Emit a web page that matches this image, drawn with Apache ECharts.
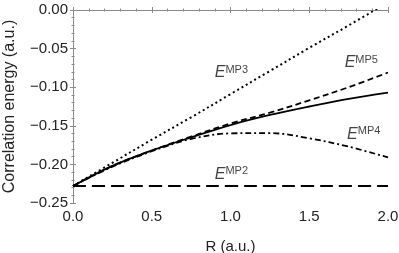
<!DOCTYPE html>
<html><head><meta charset="utf-8">
<script src="https://cdn.jsdelivr.net/npm/echarts@6/dist/echarts.min.js"></script>
<style>html,body{margin:0;padding:0;background:#fff}#c{width:399px;height:253px}</style>
</head><body><div id="c"></div>
<script>
const R = [0, 0.25, 0.5, 0.75, 1.0, 1.25, 1.5, 1.75, 2.0];
const mp2 = [-0.228, -0.228, -0.228, -0.228, -0.228, -0.228, -0.228, -0.228, -0.228];
const mp3 = [-0.228, -0.198, -0.168, -0.139, -0.109, -0.079, -0.049, -0.020, 0.010];
const mp4 = [-0.228, -0.203, -0.183, -0.167, -0.1598, -0.1594, -0.1662, -0.177, -0.191];
const mp5 = [-0.228, -0.202, -0.182, -0.164, -0.147, -0.133, -0.117, -0.100, -0.081];
const exact = [-0.228, -0.202, -0.182, -0.165, -0.149, -0.136, -0.125, -0.115, -0.107];
const labelNames = ['MP3', 'MP5', 'MP4', 'MP2'];
const labelX = [0.90, 1.725, 1.74, 0.90];
const labelY = [-0.081, -0.068, -0.161, -0.213];
const xTickLabels = ['0.0', '0.5', '1.0', '1.5', '2.0'];
const yTickLabels = ['−0.25', '−0.20', '−0.15', '−0.10', '−0.05', '0.00'];

const pair = a => R.map((r, i) => [r, a[i]]);
const font = 'Liberation Sans, Arial, sans-serif';
const frame = '#8a8a8a';
const txt = '#222';
const axisCommon = {
  axisLine: { show: true, lineStyle: { color: frame, width: 1 } },
  axisTick: { show: true, inside: true, length: 3, lineStyle: { color: frame } },
  minorTick: { show: true, splitNumber: 5, length: 1.5, lineStyle: { color: frame } },
  splitLine: { show: false }
};
const chart = echarts.init(document.getElementById('c'));
const lineS = (name, data, type, w) => ({
  name, type: 'line', data: pair(data), smooth: 0.35, showSymbol: false, symbol: 'none',
  lineStyle: { color: '#000', width: w, type: type }, clip: true, z: 3
});
chart.setOption({
  animation: false,
  grid: { left: 73, right: 11, top: 10, bottom: 50, containLabel: false, outerBoundsMode: 'none' },
  xAxis: [
    Object.assign({ type: 'value', min: 0, max: 2, interval: 0.5, position: 'bottom',
      name: 'R (a.u.)', nameLocation: 'middle', nameGap: 36,
      nameTextStyle: { fontFamily: font, fontSize: 15, color: txt },
      axisLabel: { fontFamily: font, fontSize: 15, color: txt, margin: 6,
        formatter: v => xTickLabels[Math.round(v / 0.5)] } }, axisCommon),
    Object.assign({ type: 'value', min: 0, max: 2, interval: 0.5, position: 'top',
      axisLabel: { show: false } }, axisCommon)
  ],
  yAxis: [
    Object.assign({ type: 'value', min: -0.25, max: 0, interval: 0.05, position: 'left',
      name: 'Correlation energy (a.u.)', nameLocation: 'middle', nameGap: 55,
      nameTextStyle: { fontFamily: font, fontSize: 16, color: txt },
      axisLabel: { fontFamily: font, fontSize: 15, color: txt, margin: 5,
        formatter: v => yTickLabels[Math.round((v + 0.25) / 0.05)] } }, axisCommon),
    Object.assign({ type: 'value', min: -0.25, max: 0, interval: 0.05, position: 'right',
      axisLabel: { show: false } }, axisCommon)
  ],
  series: [
    lineS('MP2', mp2, [13, 6], 1.8),
    lineS('MP3', mp3, [2, 3], 2),
    lineS('MP4', mp4, [6, 3, 2, 3], 1.8),
    lineS('MP5', mp5, [6, 3.5], 1.8),
    lineS('exact', exact, 'solid', 1.8),
    {
      type: 'scatter', symbolSize: 0, z: 5,
      data: labelNames.map((n, i) => ({ value: [labelX[i], labelY[i]], name: n })),
      label: {
        show: true, position: 'right', distance: 0,
        formatter: p => '{e|E}{s|' + p.name + '}',
        rich: {
          e: { fontFamily: font, fontSize: 16, fontStyle: 'italic', color: '#111', lineHeight: 17, verticalAlign: 'bottom' },
          s: { fontFamily: font, fontSize: 11, color: '#111', lineHeight: 17, verticalAlign: 'top' }
        }
      }
    }
  ]
});
</script></body></html>
